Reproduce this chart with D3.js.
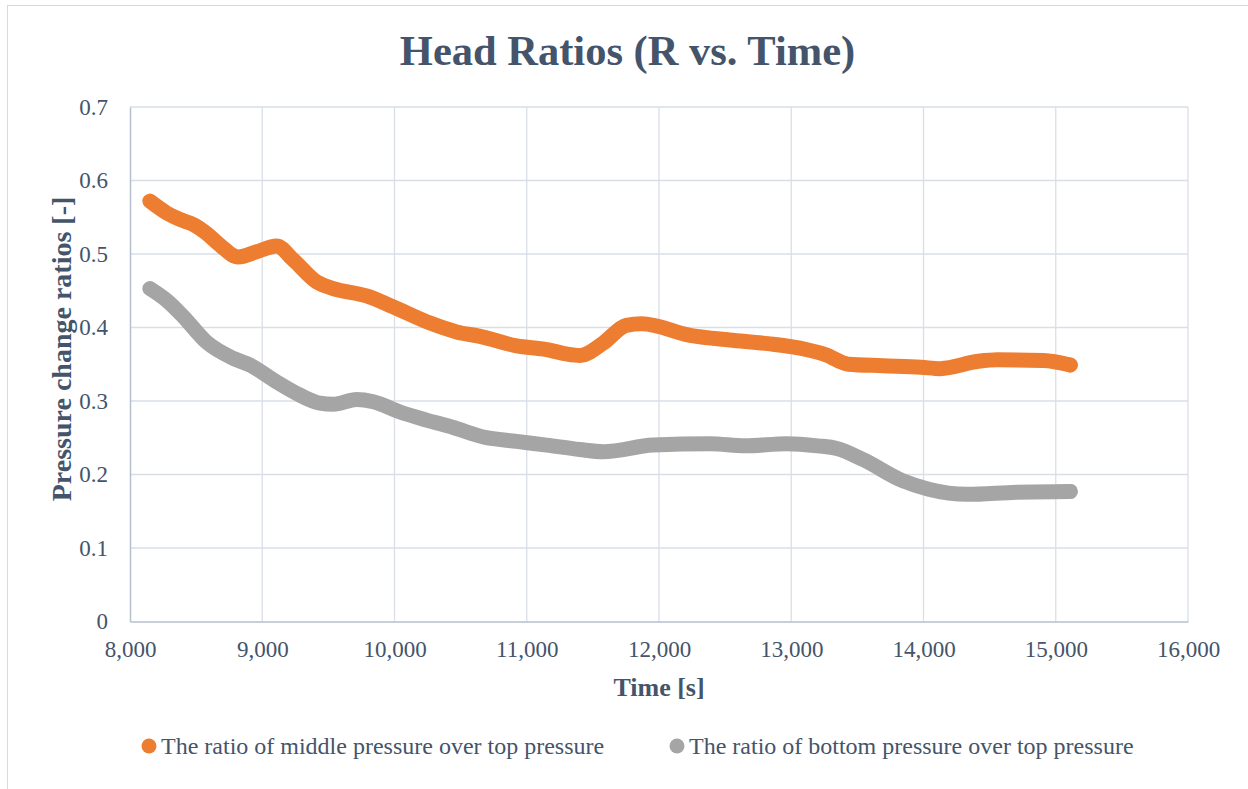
<!DOCTYPE html>
<html><head><meta charset="utf-8">
<script src="https://cdn.jsdelivr.net/npm/d3@7"></script>
<style>html,body{margin:0;padding:0;background:#fff;}svg{display:block;}</style>
</head><body>
<svg id="chart" width="1248" height="789"></svg>
<script>
const titleText = "Head Ratios (R vs. Time)";
const xTitle = "Time [s]";
const yTitle = "Pressure change ratios [-]";
const seriesNames = ["The ratio of middle pressure over top pressure", "The ratio of bottom pressure over top pressure"];
const xTicks = [8000, 9000, 10000, 11000, 12000, 13000, 14000, 15000, 16000];
const yTicks = [0, 0.1, 0.2, 0.3, 0.4, 0.5, 0.6, 0.7];

const middleTime = [8150, 8276, 8377, 8480, 8579, 8680, 8818, 8957, 9108, 9235, 9411, 9537, 9789, 9991, 10269, 10470, 10647, 10924, 11151, 11300, 11405, 11579, 11753, 11868, 12245, 12534, 12823, 13113, 13258, 13431, 13692, 13981, 14126, 14415, 14560, 14907, 15110];
const middleRatio = [0.572, 0.556, 0.547, 0.540, 0.528, 0.512, 0.496, 0.503, 0.511, 0.492, 0.462, 0.453, 0.443, 0.428, 0.406, 0.394, 0.388, 0.375, 0.370, 0.364, 0.362, 0.379, 0.403, 0.405, 0.389, 0.383, 0.378, 0.370, 0.363, 0.350, 0.348, 0.346, 0.344, 0.354, 0.356, 0.355, 0.349];

const bottomTime = [8150, 8276, 8402, 8579, 8781, 8907, 9108, 9285, 9436, 9537, 9714, 9840, 10042, 10243, 10445, 10672, 10924, 11151, 11400, 11579, 11955, 12389, 12650, 12968, 13200, 13344, 13547, 13836, 14039, 14328, 14705, 15110];
const bottomRatio = [0.453, 0.437, 0.415, 0.380, 0.358, 0.349, 0.326, 0.308, 0.297, 0.2955, 0.302, 0.299, 0.285, 0.274, 0.264, 0.251, 0.245, 0.240, 0.234, 0.231, 0.240, 0.242, 0.239, 0.242, 0.239, 0.2355, 0.220, 0.192, 0.180, 0.173, 0.176, 0.177];

const colors = ["#ED7D31", "#A5A5A5"];
const textColor = "#44546A";
const font = "'Liberation Serif','Times New Roman',serif";

const svg = d3.select("#chart");
// outer chart border
svg.append("rect").attr("x", 7.5).attr("y", 5.5).attr("width", 1300).attr("height", 900)
  .attr("fill", "#fff").attr("stroke", "#D9D9D9").attr("stroke-width", 1);

const m = {left: 130, right: 1188, top: 107, bottom: 621.5};
const x = d3.scaleLinear().domain([8000, 16000]).range([m.left, m.right]);
const y = d3.scaleLinear().domain([0, 0.7]).range([m.bottom, m.top]);

// gridlines
const g = svg.append("g");
g.selectAll(".vg").data(xTicks.slice(1)).join("line")
  .attr("x1", d => x(d)).attr("x2", d => x(d)).attr("y1", m.top).attr("y2", m.bottom)
  .attr("stroke", "#D9DEE8").attr("stroke-width", 1.3);
g.selectAll(".hg").data(yTicks.slice(1)).join("line")
  .attr("y1", d => y(d)).attr("y2", d => y(d)).attr("x1", m.left).attr("x2", m.right)
  .attr("stroke", "#D9DEE8").attr("stroke-width", 1.3);

// axes via d3
const xAxis = svg.append("g").attr("transform", `translate(0,${m.bottom})`)
  .call(d3.axisBottom(x).tickValues(xTicks).tickSize(0).tickPadding(19).tickFormat(d3.format(",")));
xAxis.select(".domain").attr("stroke", "#B4BFCF").attr("stroke-width", 1.5);
xAxis.selectAll("text").style("font-family", font).style("font-size", "23px").attr("fill", textColor);

const yAxis = svg.append("g").attr("transform", `translate(${m.left},0)`)
  .call(d3.axisLeft(y).tickValues(yTicks).tickSize(0).tickPadding(22).tickFormat(d => d === 0 ? "0" : d3.format(".1f")(d)));
yAxis.select(".domain").attr("stroke", "#B4BFCF").attr("stroke-width", 1.5);
yAxis.selectAll("text").style("font-family", font).style("font-size", "23px").attr("fill", textColor);

// series
const data = [
  middleTime.map((t, i) => [t, middleRatio[i]]),
  bottomTime.map((t, i) => [t, bottomRatio[i]])
];
const line = d3.line().x(d => x(d[0])).y(d => y(d[1])).curve(d3.curveMonotoneX);
data.forEach((s, i) => {
  svg.append("path").datum(s).attr("d", line).attr("fill", "none")
    .attr("stroke", colors[i]).attr("stroke-width", 15)
    .attr("stroke-linecap", "round").attr("stroke-linejoin", "round");
  const last = s[s.length - 1];
  svg.append("circle").attr("cx", x(last[0])).attr("cy", y(last[1])).attr("r", 7.5)
    .attr("fill", colors[i]).attr("opacity", 0.9);
});

// titles
svg.append("text").attr("x", 627.5).attr("y", 65).attr("text-anchor", "middle")
  .style("font-family", font).style("font-weight", "bold").style("font-size", "42.5px")
  .attr("fill", textColor).text(titleText);
svg.append("text").attr("x", 659).attr("y", 696).attr("text-anchor", "middle")
  .style("font-family", font).style("font-weight", "bold").style("font-size", "26px")
  .attr("fill", textColor).text(xTitle);
svg.append("text").attr("transform", `translate(71,349) rotate(-90)`)
  .attr("text-anchor", "middle")
  .style("font-family", font).style("font-weight", "bold").style("font-size", "28px")
  .attr("fill", textColor).text(yTitle);

// legend
const legendX = [149, 677];
seriesNames.forEach((n, i) => {
  svg.append("circle").attr("cx", legendX[i]).attr("cy", 746).attr("r", 7.5).attr("fill", colors[i]);
  svg.append("text").attr("x", legendX[i] + 12).attr("y", 753.5)
    .style("font-family", font).style("font-size", "24px").attr("fill", textColor).text(n);
});
</script>
</body></html>
